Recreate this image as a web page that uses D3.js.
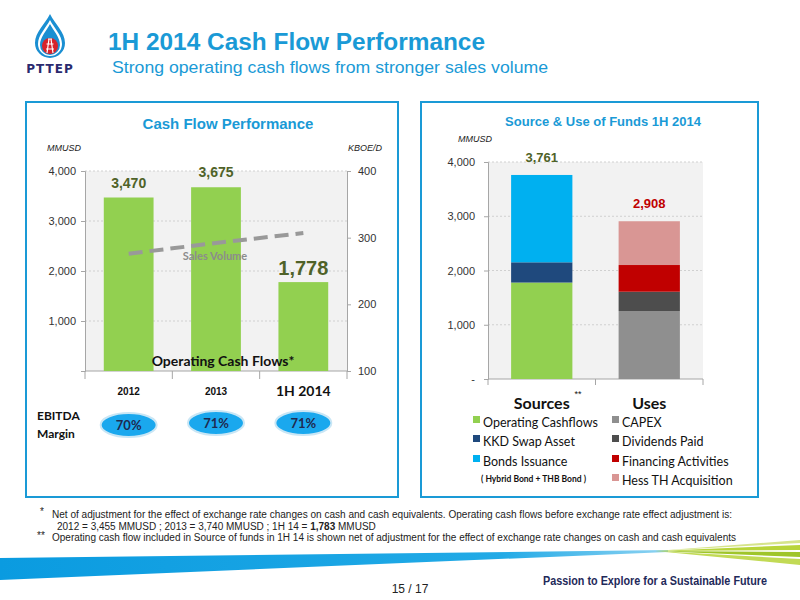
<!DOCTYPE html>
<html>
<head>
<meta charset="utf-8">
<script src="https://cdn.jsdelivr.net/npm/d3@7"></script>
<style>
  body { margin: 0; background: #fff; }
  svg { display: block; font-family: "Liberation Sans", Arial, sans-serif; }
  .axis path, .axis line { stroke: #a6a6a6; }
  .axis text { fill: #333; font-size: 11px; }
</style>
</head>
<body>
<svg id="slide" width="800" height="600"></svg>
<script>
// ---- data ----
var years = ["2012", "2013", "1H 2014"];
var opCashFlow = [3470, 3675, 1778];
var salesVolume = [276, 292, 307];
var ebitdaMargin = ["70%", "71%", "71%"];
var leftTicks = [1000, 2000, 3000, 4000];
var rightTicks = [100, 200, 300, 400];

var fundGroups = ["Sources", "Uses"];
var sourceItems = ["Operating Cashflows", "KKD Swap Asset", "Bonds Issuance"];
var sourceValues = [1778, 373, 1610];
var sourceColors = ["#92d050", "#1f497d", "#00b0f0"];
var useItems = ["CAPEX", "Dividends Paid", "Financing Activities", "Hess TH Acquisition"];
var useValues = [1253, 356, 492, 807];
var useColors = ["#8f8f8f", "#4d4d4d", "#c00000", "#d99694"];
var fundTicks = [0, 1000, 2000, 3000, 4000];

var blue = "#1a9ad6";
var calibri = "Lato, 'Open Sans', sans-serif";

var svg = d3.select("#slide");
svg.append("rect").attr("width", 800).attr("height", 600).attr("fill", "#fff");

// ---- header ----
var logo = svg.append("g");
logo.append("path")
  .attr("d", "M50,14 C55,24 65,32 65,43 A15,15 0 0 1 35,43 C35,32 45,24 50,14 Z")
  .attr("fill", "#1b8fd2");
logo.append("path")
  .attr("d", "M50,20 C54,28 62,35 62,44 A12,12 0 0 1 38,44 C38,35 46,28 50,20 Z")
  .attr("fill", "#fff");
logo.append("path")
  .attr("d", "M50,24 C53,30 60,37 60,45 A10,10 0 0 1 40,45 C40,37 47,30 50,24 Z")
  .attr("fill", "#1b8fd2");
logo.append("circle").attr("cx", 50).attr("cy", 46).attr("r", 8).attr("fill", "#d8232a");
logo.append("path")
  .attr("d", "M47,53 L49,39 L51,39 L53,53 M46.5,44 L53.5,44 M46,49 L54,49 M48,39 L52,39")
  .attr("stroke", "#fff").attr("stroke-width", 1.2).attr("fill", "none");
logo.append("text").attr("x", 50).attr("y", 73).attr("text-anchor", "middle")
  .style("font-family", "'DejaVu Sans', sans-serif").style("font-weight", "bold")
  .style("font-size", "12px").style("letter-spacing", "1px").attr("fill", "#2a2a6e")
  .text("PTTEP");

svg.append("text").attr("x", 108).attr("y", 50)
  .style("font-weight", "bold").style("font-size", "23px").attr("fill", blue)
  .attr("textLength", 377).attr("lengthAdjust", "spacingAndGlyphs")
  .text("1H 2014 Cash Flow Performance");
svg.append("text").attr("x", 112).attr("y", 73)
  .style("font-size", "17px").attr("fill", blue)
  .attr("textLength", 436).attr("lengthAdjust", "spacingAndGlyphs")
  .text("Strong operating cash flows from stronger sales volume");

// panel frames
svg.append("rect").attr("x", 26).attr("y", 102).attr("width", 372).attr("height", 395)
  .attr("fill", "none").attr("stroke", blue).attr("stroke-width", 2);
svg.append("rect").attr("x", 421).attr("y", 102).attr("width", 337).attr("height", 395)
  .attr("fill", "none").attr("stroke", blue).attr("stroke-width", 2);

// ---- left chart: cash flow performance ----
var g1 = svg.append("g");
var x1 = d3.scaleBand().domain(years).range([85, 347]).paddingInner(0.43).paddingOuter(0.215);
var y1 = d3.scaleLinear().domain([0, 4000]).range([371, 171]);
var y1r = d3.scaleLinear().domain([100, 400]).range([371, 171]);

g1.append("text").attr("x", 228).attr("y", 129).attr("text-anchor", "middle")
  .style("font-weight", "bold").style("font-size", "15px").attr("fill", blue)
  .text("Cash Flow Performance");
g1.append("text").attr("x", 47).attr("y", 151)
  .style("font-style", "italic").style("font-size", "9px").attr("fill", "#222").text("MMUSD");
g1.append("text").attr("x", 382).attr("y", 151).attr("text-anchor", "end")
  .style("font-style", "italic").style("font-size", "9px").attr("fill", "#222").text("KBOE/D");

g1.append("rect").attr("x", 85).attr("y", 171).attr("width", 262).attr("height", 200).attr("fill", "#f2f2f2");
g1.selectAll(".grid").data(leftTicks).enter().append("line")
  .attr("x1", 85).attr("x2", 347)
  .attr("y1", function(d) { return y1(d); }).attr("y2", function(d) { return y1(d); })
  .attr("stroke", "#d0d0d0").attr("stroke-dasharray", "2,2");

g1.append("g").attr("class", "axis").attr("transform", "translate(85,0)")
  .call(d3.axisLeft(y1).tickValues(leftTicks).tickSize(4).tickPadding(5).tickFormat(d3.format(",")));
g1.append("g").attr("class", "axis").attr("transform", "translate(347,0)")
  .call(d3.axisRight(y1r).tickValues(rightTicks).tickSize(4).tickPadding(7));
g1.selectAll(".axis text").style("font-size", "11px");

// bottom axis with ticks at band edges
g1.append("line").attr("x1", 85).attr("x2", 347).attr("y1", 371).attr("y2", 371).attr("stroke", "#a6a6a6");
var edges1 = years.map(function(d) { return x1(d) - x1.step() * 0.215; }).concat([347]);
g1.selectAll(".xt").data(edges1).enter().append("line")
  .attr("x1", function(d) { return d; }).attr("x2", function(d) { return d; })
  .attr("y1", 371).attr("y2", 379).attr("stroke", "#a6a6a6");

g1.selectAll(".bar").data(opCashFlow).enter().append("rect")
  .attr("x", function(d, i) { return x1(years[i]); })
  .attr("y", function(d) { return y1(d); })
  .attr("width", x1.bandwidth())
  .attr("height", function(d) { return y1(0) - y1(d); })
  .attr("fill", "#92d050");

g1.selectAll(".val").data(opCashFlow).enter().append("text")
  .attr("x", function(d, i) { return x1(years[i]) + x1.bandwidth() / 2; })
  .attr("y", function(d, i) { return y1(d) - (i === 2 ? 7 : 10); })
  .attr("text-anchor", "middle")
  .style("font-weight", "bold").style("font-size", function(d, i) { return i === 2 ? "20px" : "14px"; })
  .attr("fill", "#4f6228")
  .text(d3.format(","));

// sales volume dashed line
var line1 = d3.line()
  .x(function(d, i) { return x1(years[i]) + x1.bandwidth() / 2; })
  .y(function(d) { return y1r(d); });
g1.append("path").datum(salesVolume).attr("d", line1)
  .attr("fill", "none").attr("stroke", "#999").attr("stroke-width", 4)
  .attr("stroke-dasharray", "14,7");
g1.append("text").attr("x", 215).attr("y", 260).attr("text-anchor", "middle")
  .style("font-family", calibri).style("font-weight", "bold").style("font-size", "11px")
  .attr("fill", "#8c8c8c").text("Sales Volume");

g1.append("text").attr("x", 223).attr("y", 366).attr("text-anchor", "middle")
  .style("font-family", calibri).style("font-weight", "bold").style("font-size", "14px")
  .attr("fill", "#111").text("Operating Cash Flows*");

g1.selectAll(".xl").data(years).enter().append("text")
  .attr("x", function(d) { return x1(d) + x1.bandwidth() / 2; })
  .attr("y", function(d, i) { return i === 2 ? 396 : 395; })
  .attr("text-anchor", "middle")
  .style("font-family", function(d, i) { return i === 2 ? calibri : null; })
  .style("font-weight", "bold").style("font-size", function(d, i) { return i === 2 ? "14px" : "10px"; })
  .attr("fill", "#111").text(function(d) { return d; });

// EBITDA margin
g1.append("text").attr("x", 37).attr("y", 420)
  .style("font-family", calibri).style("font-weight", "bold").style("font-size", "12px")
  .attr("fill", "#111").text("EBITDA");
g1.append("text").attr("x", 37).attr("y", 438)
  .style("font-family", calibri).style("font-weight", "bold").style("font-size", "12px")
  .attr("fill", "#111").text("Margin");
var ovalY = [425, 423, 423];
g1.selectAll(".oval").data(ebitdaMargin).enter().append("ellipse")
  .attr("cx", function(d, i) { return x1(years[i]) + x1.bandwidth() / 2; })
  .attr("cy", function(d, i) { return ovalY[i]; })
  .attr("rx", 28).attr("ry", 12)
  .attr("fill", "#1aa8ee").attr("stroke", "#c9e6f5").attr("stroke-width", 2);
g1.selectAll(".pct").data(ebitdaMargin).enter().append("text")
  .attr("x", function(d, i) { return x1(years[i]) + x1.bandwidth() / 2; })
  .attr("y", function(d, i) { return ovalY[i] + 5; })
  .attr("text-anchor", "middle")
  .style("font-family", calibri).style("font-weight", "bold")
  .style("font-size", "13px").attr("fill", "#1f2a50")
  .text(function(d) { return d; });

// ---- right chart: source & use of funds ----
var g2 = svg.append("g");
var x2 = d3.scaleBand().domain(fundGroups).range([488, 703]).paddingInner(0.43).paddingOuter(0.215);
var y2 = d3.scaleLinear().domain([0, 4000]).range([379, 162]);

g2.append("text").attr("x", 603).attr("y", 126).attr("text-anchor", "middle")
  .style("font-weight", "bold").style("font-size", "13px").attr("fill", blue)
  .text("Source & Use of Funds 1H 2014");
g2.append("text").attr("x", 458).attr("y", 142)
  .style("font-style", "italic").style("font-size", "9px").attr("fill", "#222").text("MMUSD");

g2.append("rect").attr("x", 488).attr("y", 162).attr("width", 215).attr("height", 217).attr("fill", "#f2f2f2");
g2.selectAll(".grid").data(fundTicks.slice(1)).enter().append("line")
  .attr("x1", 488).attr("x2", 703)
  .attr("y1", function(d) { return y2(d); }).attr("y2", function(d) { return y2(d); })
  .attr("stroke", "#d0d0d0").attr("stroke-dasharray", "2,2");
g2.append("g").attr("class", "axis").attr("transform", "translate(488,0)")
  .call(d3.axisLeft(y2).tickValues(fundTicks).tickSize(4).tickPadding(9)
    .tickFormat(function(d) { return d === 0 ? "-" : d3.format(",")(d); }));
g2.selectAll(".axis text").style("font-size", "11px");

g2.append("line").attr("x1", 488).attr("x2", 703).attr("y1", 379).attr("y2", 379).attr("stroke", "#a6a6a6");
var edges2 = fundGroups.map(function(d) { return x2(d) - x2.step() * 0.215; }).concat([703]);
g2.selectAll(".xt").data(edges2).enter().append("line")
  .attr("x1", function(d) { return d; }).attr("x2", function(d) { return d; })
  .attr("y1", 379).attr("y2", 385).attr("stroke", "#a6a6a6");

function stackSegments(group, values, colors) {
  var tops = d3.cumsum(values);
  return values.map(function(v, i) {
    return { group: group, y0: tops[i] - v, y1: tops[i], color: colors[i] };
  });
}
var segments = stackSegments("Sources", sourceValues, sourceColors)
  .concat(stackSegments("Uses", useValues, useColors));

g2.selectAll(".seg").data(segments).enter().append("rect")
  .attr("x", function(d) { return x2(d.group); })
  .attr("y", function(d) { return y2(d.y1); })
  .attr("width", x2.bandwidth())
  .attr("height", function(d) { return y2(d.y0) - y2(d.y1); })
  .attr("fill", function(d) { return d.color; });

var totals = [d3.sum(sourceValues), d3.sum(useValues)];
var totalColors = ["#4f6228", "#c00000"];
g2.selectAll(".tot").data(totals).enter().append("text")
  .attr("x", function(d, i) { return x2(fundGroups[i]) + x2.bandwidth() / 2; })
  .attr("y", function(d) { return y2(d) - 13; })
  .attr("text-anchor", "middle")
  .style("font-weight", "bold").style("font-size", "13px")
  .attr("fill", function(d, i) { return totalColors[i]; })
  .text(d3.format(","));

g2.selectAll(".grp").data(fundGroups).enter().append("text")
  .attr("x", function(d) { return x2(d) + x2.bandwidth() / 2; })
  .attr("y", 409).attr("text-anchor", "middle")
  .style("font-family", calibri).style("font-weight", "bold").style("font-size", "16px")
  .attr("fill", "#111").text(function(d) { return d; });
g2.append("text").attr("x", 578).attr("y", 397).attr("text-anchor", "middle")
  .style("font-size", "9px").attr("fill", "#111").text("**");

// legend
var rowY = [427, 446, 466, 485];
function legendColumn(items, colors, x) {
  var lg = g2.append("g");
  lg.selectAll("rect").data(items).enter().append("rect")
    .attr("x", x).attr("y", function(d, i) { return rowY[i] - 11; })
    .attr("width", 7).attr("height", 7)
    .attr("fill", function(d, i) { return colors[i]; });
  lg.selectAll("text").data(items).enter().append("text")
    .attr("x", x + 10).attr("y", function(d, i) { return rowY[i]; })
    .style("font-family", calibri).style("font-size", "12.5px").attr("fill", "#111")
    .text(function(d) { return d; });
}
legendColumn(sourceItems, sourceColors, 473);
legendColumn(useItems, useColors, 612);
g2.append("text").attr("x", 481).attr("y", 482)
  .style("font-family", calibri).style("font-weight", "bold").style("font-size", "8.5px")
  .attr("fill", "#111").text("( Hybrid Bond + THB Bond )");

// ---- footnotes ----
var narrow = "'Liberation Sans Narrow', 'Arial Narrow', 'Liberation Sans', sans-serif";
var fn = svg.append("g").style("font-family", narrow).style("font-size", "10px").attr("fill", "#222");
fn.append("text").attr("x", 40).attr("y", 515).text("*");
fn.append("text").attr("x", 52).attr("y", 518).attr("textLength", 680).attr("lengthAdjust", "spacingAndGlyphs")
  .text("Net of adjustment for the effect of exchange rate changes on cash and cash equivalents.  Operating cash flows before exchange rate effect adjustment is:");
var l2 = fn.append("text").attr("x", 57).attr("y", 530);
l2.append("tspan").text("2012 = 3,455 MMUSD ; 2013 = 3,740 MMUSD ; 1H 14 = ");
l2.append("tspan").style("font-weight", "bold").text("1,783");
l2.append("tspan").text("  MMUSD");
fn.append("text").attr("x", 37).attr("y", 539).text("**");
fn.append("text").attr("x", 52).attr("y", 541).attr("textLength", 684).attr("lengthAdjust", "spacingAndGlyphs")
  .text("Operating cash flow included in Source of funds in 1H 14 is shown net of adjustment for the effect of exchange rate changes on cash and cash equivalents");

// ---- footer band ----
var defs = svg.append("defs");
var grad = defs.append("linearGradient").attr("id", "band").attr("x1", "0").attr("x2", "1");
grad.append("stop").attr("offset", "0").attr("stop-color", "#0a9be0");
grad.append("stop").attr("offset", "0.75").attr("stop-color", "#22aae6");
grad.append("stop").attr("offset", "1").attr("stop-color", "#8fd3f2");
svg.append("path").attr("d", "M0,558 L668,550 L668,552 L0,580 Z").attr("fill", "url(#band)");
var stripes = [
  ["M655,551 L800,540 L800,543 Z", "#d6e48a"],
  ["M655,551 L800,545 L800,550 Z", "#b8d43a"],
  ["M655,551 L800,552 L800,557 Z", "#9fc52a"],
  ["M655,551 L800,559 L800,565 Z", "#c2da55"]
];
svg.selectAll(".stripe").data(stripes).enter().append("path")
  .attr("d", function(d) { return d[0]; }).attr("fill", function(d) { return d[1]; });

svg.append("text").attr("x", 767).attr("y", 585).attr("text-anchor", "end")
  .style("font-family", narrow).style("font-weight", "bold").style("font-size", "12px")
  .attr("fill", "#1f2a5a").attr("textLength", 224).attr("lengthAdjust", "spacingAndGlyphs")
  .text("Passion to Explore for a Sustainable Future");
svg.append("text").attr("x", 410).attr("y", 593).attr("text-anchor", "middle")
  .style("font-family", narrow).style("font-size", "12px").attr("fill", "#222")
  .text("15 / 17");
</script>
</body>
</html>
